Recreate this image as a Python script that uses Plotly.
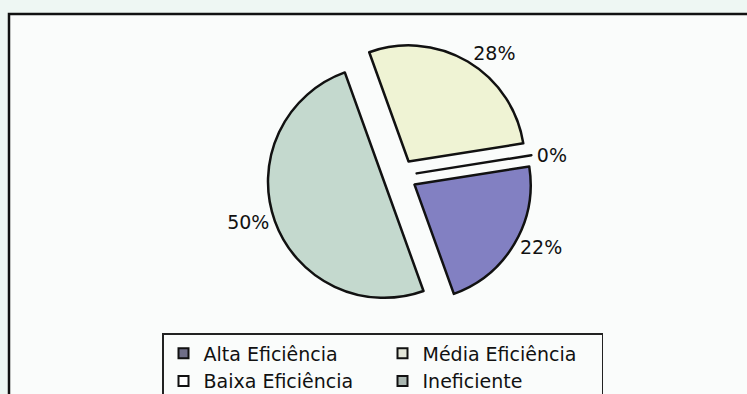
import plotly.graph_objects as go

# Efficiency classes and their share of the sample (%)
categorias = ["Alta Eficiência", "Baixa Eficiência", "Média Eficiência", "Ineficiente"]
valores = [22, 0, 28, 50]
cores = ["#8280c2", "#ffffff", "#eff3d4", "#c4d9ce"]
afastamento = [0.145, 0.145, 0.145, 0.145]

# Legend is laid out in two columns, read top-to-bottom
ordem_legenda = ["Alta Eficiência", "Média Eficiência", "Baixa Eficiência", "Ineficiente"]
cores_legenda = {"Alta Eficiência": "#6f6e88", "Baixa Eficiência": "#ffffff",
                 "Média Eficiência": "#e3e6d8", "Ineficiente": "#a9b6b0"}

FONTE = "DejaVu Sans, Arial, sans-serif"
W, H = 747, 394
ML = 150                      # left margin of the plot area
PW = W - ML                   # plot area width


def px_x(x):
    return (x - ML) / PW


def px_y(y):
    return 1 - y / H


fig = go.Figure()

fig.add_trace(
    go.Pie(
        labels=categorias,
        values=valores,
        sort=False,
        direction="counterclockwise",
        rotation=81,
        pull=afastamento,
        marker=dict(colors=cores, line=dict(color="#111111", width=2.5)),
        texttemplate="%{percent:.0%}",
        textposition="outside",
        outsidetextfont=dict(family=FONTE, size=19, color="#111111"),
        domain=dict(x=[px_x(267), px_x(533)], y=[px_y(309), px_y(43)]),
        showlegend=False,
        hoverinfo="label+percent",
    )
)

# Legend entries (square swatches), one per class
for nome in ordem_legenda:
    fig.add_trace(
        go.Scatter(
            x=[None], y=[None], mode="markers", name=nome,
            marker=dict(symbol="square", size=10, color=cores_legenda[nome],
                        line=dict(color="#111111", width=2)),
            showlegend=True,
        )
    )

# Outer frame of the chart area
fig.add_shape(
    type="rect", xref="paper", yref="paper",
    x0=px_x(9), x1=1.2, y0=-0.2, y1=px_y(14),
    line=dict(color="#111111", width=2.5), fillcolor="#fafcfb", layer="below",
)

fig.update_layout(
    width=W, height=H,
    margin=dict(l=ML, r=0, t=0, b=0, autoexpand=False),
    paper_bgcolor="#eef7f3",
    plot_bgcolor="rgba(0,0,0,0)",
    xaxis=dict(visible=False),
    yaxis=dict(visible=False),
    font=dict(family=FONTE, size=19, color="#111111"),
    legend=dict(
        orientation="h",
        traceorder="normal",
        x=px_x(162), xanchor="left",
        y=px_y(333), yanchor="top",
        entrywidth=174, entrywidthmode="pixels",
        bgcolor="#fafcfb", bordercolor="#222222", borderwidth=1.5,
        font=dict(family=FONTE, size=19),
        itemclick=False, itemdoubleclick=False,
    ),
)

fig.write_html("out.html")
